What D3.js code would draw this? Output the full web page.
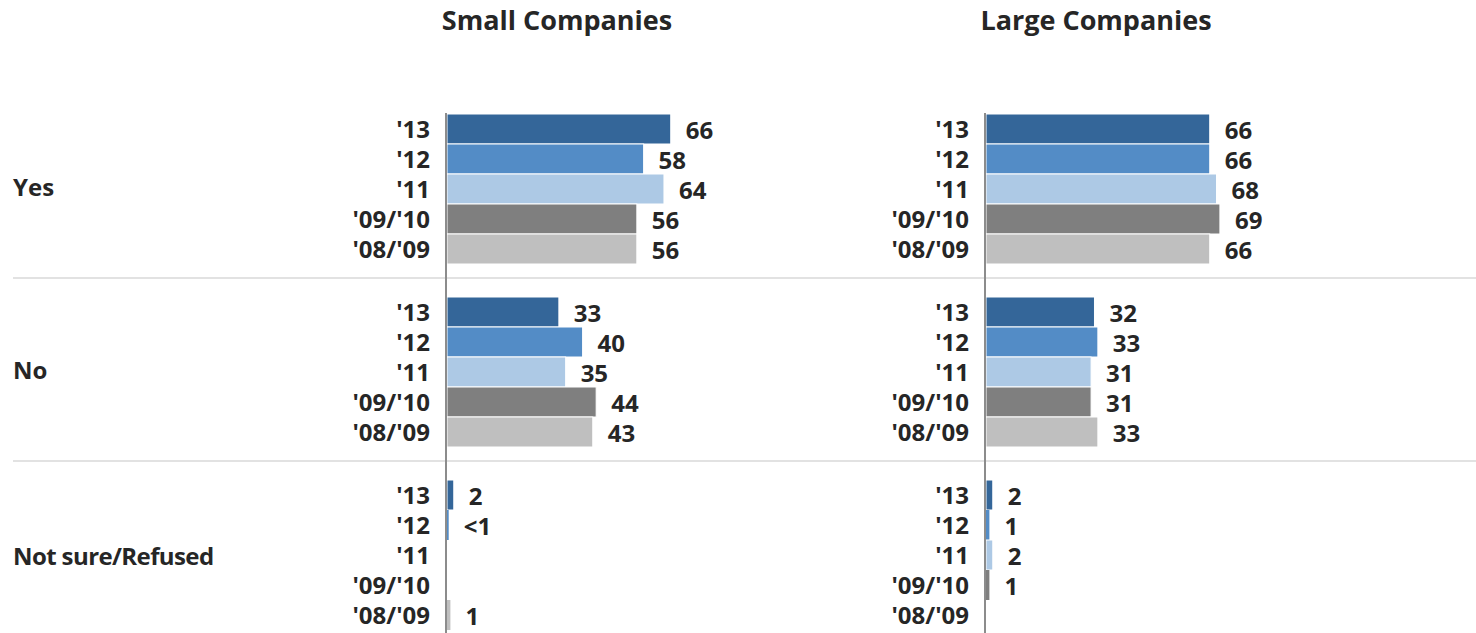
<!DOCTYPE html>
<html>
<head>
<meta charset="utf-8">
<script src="https://cdn.jsdelivr.net/npm/d3@7"></script>
<style>
  html, body { margin: 0; padding: 0; background: #fff; }
  svg { display: block; }
  text { font-family: "Open Sans", "Liberation Sans", sans-serif; font-weight: 700; fill: #262626; }
</style>
</head>
<body>
<svg id="chart" width="1476" height="633"></svg>
<script>
// ---- data ----
const groups = ["Yes", "No", "Not sure/Refused"];
const years = ["'13", "'12", "'11", "'09/'10", "'08/'09"];
const panelTitles = ["Small Companies", "Large Companies"];

const smallYes = [66, 58, 64, 56, 56];
const smallNo = [33, 40, 35, 44, 43];
const smallNotSure = [2, 0.5, null, null, 1];
const smallNotSureLabels = ["2", "<1", "", "", "1"];

const largeYes = [66, 66, 68, 69, 66];
const largeNo = [32, 33, 31, 31, 33];
const largeNotSure = [2, 1, 2, 1, null];
const largeNotSureLabels = ["2", "1", "2", "1", ""];

const yearColors = ["#346699", "#538cc6", "#adc9e5", "#7f7f7f", "#bfbfbf"];

// ---- build ----
function rows(vals, labels) {
  return vals.map((v, i) => ({ year: years[i], value: v, label: labels ? labels[i] : (v == null ? "" : String(v)) }));
}
const panels = [
  { title: panelTitles[0], x0: 447, data: [rows(smallYes), rows(smallNo), rows(smallNotSure, smallNotSureLabels)] },
  { title: panelTitles[1], x0: 986, data: [rows(largeYes), rows(largeNo), rows(largeNotSure, largeNotSureLabels)] }
];

const svg = d3.select("#chart");
const W = 1476, H = 633;

const yGroup = d3.scaleBand().domain(groups).range([97.5, 97.5 + 183 * 3]).padding(0);
const yYear = d3.scaleBand().domain(years).range([16.5, 166.5]).padding(0);
const x = d3.scaleLinear().domain([0, 100]).range([0, 339]);
const color = d3.scaleOrdinal().domain(years).range(yearColors);

// separator lines
svg.append("g").selectAll("line")
  .data(groups.slice(1))
  .join("line")
  .attr("x1", 13).attr("x2", W)
  .attr("y1", d => yGroup(d) - 2.5).attr("y2", d => yGroup(d) - 2.5)
  .attr("stroke", "#d9d9d9").attr("stroke-width", 1.5);

// group labels
svg.append("g").selectAll("text")
  .data(groups)
  .join("text")
  .attr("x", 13)
  .attr("y", (d, i) => yGroup(d) + (yYear.range()[0] + yYear.range()[1]) / 2 + (i === 2 ? 3 : 0))
  .attr("dy", "0.3em")
  .attr("font-size", 24)
  .attr("letter-spacing", (d, i) => i === 2 ? -0.6 : 0)
  .text(d => d);

panels.forEach(p => {
  const g = svg.append("g").attr("transform", `translate(${p.x0},0)`);

  // title
  g.append("text")
    .attr("x", 110).attr("y", 30)
    .attr("text-anchor", "middle")
    .attr("font-size", 27)
    .text(p.title);

  groups.forEach((grp, gi) => {
    const gg = g.append("g").attr("transform", `translate(0,${yGroup(grp)})`);
    const d = p.data[gi];

    // category labels
    gg.selectAll("text.cat").data(d).join("text")
      .attr("class", "cat")
      .attr("x", -17)
      .attr("y", r => yYear(r.year) + yYear.bandwidth() / 2)
      .attr("dy", "0.36em")
      .attr("text-anchor", "end")
      .attr("font-size", 24)
      .text(r => r.year);

    // bars
    gg.selectAll("rect").data(d.filter(r => r.value != null)).join("rect")
      .attr("x", 0)
      .attr("y", r => yYear(r.year))
      .attr("width", r => x(r.value))
      .attr("height", yYear.bandwidth())
      .attr("fill", r => color(r.year))
      .attr("stroke", "#fff")
      .attr("stroke-width", r => x(r.value) > 5 ? 1 : 0);

    // value labels
    gg.selectAll("text.val").data(d.filter(r => r.label !== "")).join("text")
      .attr("class", "val")
      .attr("x", r => x(r.value || 0) + 15)
      .attr("y", r => yYear(r.year) + yYear.bandwidth() / 2)
      .attr("dy", "0.42em")
      .attr("font-size", 24)
      .text(r => r.label);
  });

  // vertical axis line
  g.append("line")
    .attr("x1", -1).attr("x2", -1)
    .attr("y1", yGroup(groups[0]) + yYear.range()[0] - 1).attr("y2", H)
    .attr("stroke", "#8c8c8c").attr("stroke-width", 2);
});
</script>
</body>
</html>
